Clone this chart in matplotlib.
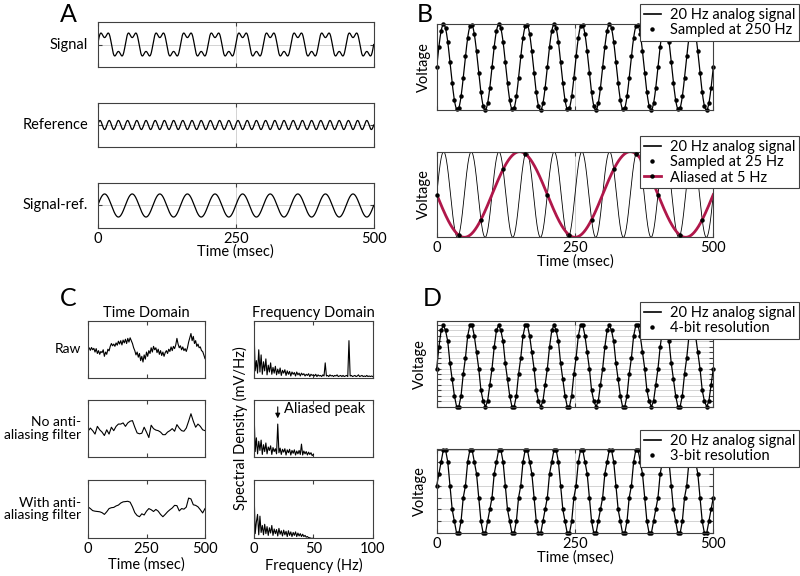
import numpy as np
import matplotlib
matplotlib.use('Agg')
import matplotlib.pyplot as plt
from matplotlib.lines import Line2D

plt.rcParams['font.family'] = ['Lato', 'DejaVu Sans']
plt.rcParams['font.size'] = 10.5

# --- signal parameters (panels A, B, D) ---
f_signal = 20        # Hz, analog signal
f_ref = 60           # Hz, reference / line noise
ref_amp = 0.4
fs_good = 250        # Hz, adequate sampling
fs_bad = 25          # Hz, undersampling
f_alias = 5          # Hz
bits = [4, 3]
time_ticks = [0, 250, 500]

# --- panel C, time domain traces ---
t_raw = np.arange(0, 501, 5)
raw_trace = [0.00, 0.05, -0.04, 0.06, -0.02, 0.03, -0.10, 0.02, -0.15, -0.05,
             -0.18, -0.08, -0.12, -0.02, -0.25, -0.10, -0.18, 0.00, -0.06, 0.10,
             0.20, 0.12, 0.18, 0.10, 0.22, 0.14, 0.28, 0.18, 0.30, 0.15,
             0.32, 0.22, 0.35, 0.20, 0.38, 0.25, 0.40, 0.30, 0.20, 0.05,
             -0.05, -0.20, -0.10, -0.28, -0.15, -0.40, -0.25, -0.45, -0.20, -0.35,
             -0.10, -0.25, -0.05, -0.15, 0.05, -0.10, 0.10, -0.02, 0.05, -0.12,
             0.00, -0.18, -0.05, -0.22, -0.10, -0.25, -0.12, -0.05, -0.15, 0.00,
             -0.08, 0.08, -0.05, 0.10, 0.02, 0.15, 0.38, 0.18, 0.05, 0.12,
             -0.02, 0.08, -0.05, 0.02, -0.08, 0.05, 0.25, 0.40, 0.55, 0.30,
             0.45, 0.20, 0.30, 0.10, 0.18, 0.05, 0.08, -0.05, -0.08, -0.20,
             -0.33]
t_down = np.arange(0, 501, 10)
noaa_trace = [-0.09, 0.02, -0.07, -0.19, 0.08, -0.04, -0.12, -0.24, -0.04, -0.19,
              0.05, -0.07, 0.08, 0.16, 0.16, 0.20, 0.08, 0.20, 0.26, 0.28,
              0.05, -0.15, -0.18, -0.16, 0.05, -0.12, -0.31, 0.12, 0.00, -0.05,
              -0.07, -0.12, -0.21, -0.21, -0.12, -0.07, 0.00, -0.09, 0.14, 0.02,
              -0.07, -0.09, 0.02, 0.26, 0.52, 0.26, 0.05, 0.16, 0.08, -0.04,
              -0.07]
aa_trace = [0.08, 0.02, -0.05, -0.07, -0.08, -0.09, -0.12, -0.18, -0.09, 0.02,
            0.05, 0.06, 0.11, 0.14, 0.21, 0.25, 0.26, 0.27, 0.24, 0.08,
            -0.12, -0.22, -0.26, -0.16, -0.20, -0.07, 0.02, -0.02, -0.08, -0.01,
            -0.07, -0.18, -0.26, -0.18, -0.09, -0.02, 0.04, 0.13, 0.12, -0.06,
            0.02, 0.00, 0.07, 0.38, 0.35, 0.15, 0.13, 0.08, -0.02, -0.13,
            0.02]

# --- panel C, spectra (1 Hz bins) ---
freq_raw = np.arange(0, 101)
spec_raw = [.85, .12, .30, .08, .49, .10, .40, .06, .28, .12,
            .33, .05, .22, .10, .26, .06, .18, .08, .20, .05,
            .15, .07, .17, .04, .13, .08, .14, .04, .12, .06,
            .11, .03, .10, .06, .09, .03, .10, .05, .08, .03,
            .08, .05, .07, .03, .06, .04, .07, .02, .06, .04,
            .05, .03, .06, .02, .05, .03, .04, .02, .05, .03,
            .26, .03, .04, .02, .05, .03, .04, .02, .04, .03,
            .05, .02, .03, .04, .02, .04, .02, .03, .04, .02,
            .65, .03, .04, .02, .03, .04, .02, .03, .05, .02,
            .03, .04, .02, .03, .02, .04, .02, .03, .02, .03,
            .02]
freq_half = np.arange(0, 51)
spec_noaa = [.84, .10, .34, .06, .28, .12, .30, .05, .22, .10,
             .25, .06, .18, .12, .20, .05, .17, .10, .15, .06,
             .58, .08, .16, .05, .14, .09, .15, .04, .13, .08,
             .14, .04, .12, .07, .13, .04, .11, .06, .12, .05,
             .23, .04, .11, .06, .10, .04, .09, .05, .08, .03,
             .05]
spec_aa = [.84, .08, .28, .41, .06, .38, .10, .22, .06, .24,
           .08, .20, .05, .18, .09, .22, .05, .16, .08, .15,
           .04, .17, .07, .13, .04, .14, .06, .12, .03, .13,
           .05, .11, .03, .10, .05, .11, .03, .09, .04, .08,
           .03, .07, .03, .05, .02, .03, .01, .01, .00, .00,
           .00]

W, H = 800, 576
fig = plt.figure(figsize=(W / 100, H / 100), dpi=100)
EDGE = '#404040'
GRID = '#cccccc'
RED = '#b0174a'
MS = 2.2


def add_ax(x0, y0, x1, y1):
    ax = fig.add_axes([x0 / W, 1 - y1 / H, (x1 - x0) / W, (y1 - y0) / H])
    for s in ax.spines.values():
        s.set_color(EDGE)
        s.set_linewidth(0.8)
    ax.tick_params(direction='in', top=True, right=True, length=3,
                   width=0.8, color=EDGE, pad=3)
    return ax


def add_legend(handles, labels, top):
    leg = fig.legend(handles, labels, loc='upper right',
                     bbox_to_anchor=(799 / W, 1 - top / H), frameon=True,
                     fancybox=False, edgecolor=EDGE, framealpha=1,
                     borderpad=0.25, labelspacing=0.1, handlelength=1.2,
                     handletextpad=0.6, borderaxespad=0, fontsize=10.5)
    leg.get_frame().set_linewidth(0.8)


t = np.linspace(0, 500, 2501)
analog = np.sin(2 * np.pi * f_signal * t / 1000)

# ---------------- A ----------------
reference = ref_amp * np.sin(2 * np.pi * f_ref * t / 1000)
rows_a = [('Signal', analog + reference, 22, 67),
          ('Reference', reference, 103, 147),
          ('Signal-ref.', analog, 183, 228)]
for i, (name, y, y0, y1) in enumerate(rows_a):
    ax = add_ax(97.7, y0, 373.7, y1)
    ax.axvline(250, color=GRID, lw=0.6, zorder=0)
    ax.axhline(0, color=GRID, lw=0.6, zorder=0)
    ax.plot(t, y, color='k', lw=0.9)
    ax.set_xlim(0, 500)
    ax.set_ylim(-1.95, 1.95)
    ax.set_xticks(time_ticks)
    ax.set_yticks([0])
    ax.set_yticklabels([])
    if i < 2:
        ax.set_xticklabels([])
    else:
        ax.set_xlabel('Time (msec)', labelpad=-1)
    fig.text(88 / W, 1 - (y0 + y1) / 2 / H, name, ha='right', va='center')
fig.text(68 / W, 1 - 14 / H, 'A', fontsize=18, ha='center', va='center')

# ---------------- B ----------------
ax = add_ax(436.7, 24.3, 713.3, 110)
t_s = np.arange(0, 501, 1000 / fs_good)
ax.axvline(250, color=GRID, lw=0.6, zorder=0)
ax.plot(t, analog, color='k', lw=0.9)
ax.plot(t_s, np.sin(2 * np.pi * f_signal * t_s / 1000), 'o', color='k',
        ms=MS, clip_on=False)
ax.set_xlim(0, 500)
ax.set_ylim(-1, 1)
ax.set_xticks(time_ticks)
ax.set_xticklabels([])
ax.set_yticks([])
ax.set_ylabel('Voltage', labelpad=4)
add_legend([Line2D([], [], color='k', lw=1.2),
            Line2D([], [], ls='none', marker='o', ms=MS, color='k')],
           ['20 Hz analog signal', 'Sampled at 250 Hz'], 4.3)

ax = add_ax(436.7, 151.7, 713.3, 237.3)
t_u = np.arange(0, 500, 1000 / fs_bad)
ax.axvline(250, color=GRID, lw=0.6, zorder=0)
ax.plot(t, analog, color='k', lw=0.6)
ax.plot(t, -np.sin(2 * np.pi * f_alias * t / 1000), color=RED, lw=2)
ax.plot(t_u, np.sin(2 * np.pi * f_signal * t_u / 1000), 'o', color='k',
        ms=MS, clip_on=False, zorder=4)
ax.set_xlim(0, 500)
ax.set_ylim(-1, 1)
ax.set_xticks(time_ticks)
ax.set_yticks([])
ax.set_ylabel('Voltage', labelpad=4)
ax.set_xlabel('Time (msec)', labelpad=-1)
add_legend([Line2D([], [], color='k', lw=1.2),
            Line2D([], [], ls='none', marker='o', ms=MS, color='k'),
            Line2D([], [], color=RED, lw=2, marker='o', ms=MS,
                   mfc='k', mec='k')],
           ['20 Hz analog signal', 'Sampled at 25 Hz', 'Aliased at 5 Hz'], 136)
fig.text(425 / W, 1 - 14 / H, 'B', fontsize=18, ha='center', va='center')

# ---------------- C ----------------
rows_c = [('Raw', raw_trace, t_raw, spec_raw, freq_raw, 320.7, 377.7),
          ('No anti-\naliasing filter', noaa_trace, t_down, spec_noaa,
           freq_half, 400, 457.3),
          ('With anti-\naliasing filter', aa_trace, t_down, spec_aa,
           freq_half, 480, 538.3)]
for i, (name, tr, tt, sp, ff, y0, y1) in enumerate(rows_c):
    ax = add_ax(88, y0, 205, y1)
    ax.plot(tt, tr, color='k', lw=0.8)
    ax.set_xlim(0, 500)
    ax.set_ylim(-1, 1)
    ax.set_xticks(time_ticks)
    ax.set_yticks([])
    if i == 0:
        ax.set_title('Time Domain', fontsize=10.5, pad=3)
    if i < 2:
        ax.set_xticklabels([])
    else:
        ax.set_xlabel('Time (msec)', labelpad=1)
    fig.text(81 / W, 1 - (y0 + y1) / 2 / H, name, ha='right', va='center',
             linespacing=1.05, fontsize=10)

    ax = add_ax(254, y0, 372.7, y1)
    ax.plot(ff, sp, color='k', lw=0.8)
    ax.set_xlim(0, 100)
    ax.set_ylim(0, 1)
    ax.set_xticks([0, 50, 100])
    ax.set_yticks([])
    if i == 0:
        ax.set_title('Frequency Domain', fontsize=10.5, pad=3)
    if i == 1:
        ax.annotate('', xy=(20, 0.68), xytext=(20, 0.88),
                    arrowprops=dict(arrowstyle='-|>', color='k', lw=0.8,
                                    mutation_scale=7, shrinkA=0, shrinkB=0))
        ax.text(25, 0.84, 'Aliased peak', va='center', ha='left')
    if i < 2:
        ax.set_xticklabels([])
    else:
        ax.set_xlabel('Frequency (Hz)', labelpad=1)
fig.text(240 / W, 1 - 428 / H, 'Spectral Density (mV/Hz)', rotation=90,
         ha='center', va='center')
fig.text(68 / W, 1 - 298 / H, 'C', fontsize=18, ha='center', va='center')

# ---------------- D ----------------
boxes_d = [(320.7, 406.7, 0.8), (449.3, 533.3, 0.05)]
for i, (nb, (y0, y1, pad)) in enumerate(zip(bits, boxes_d)):
    ax = add_ax(436.7, y0, 713.3, y1)
    levels = np.linspace(-1, 1, 2 ** nb)
    step = levels[1] - levels[0]
    x = np.sin(2 * np.pi * f_signal * t_s / 1000)
    q = levels[np.argmin(np.abs(x[:, None] - levels[None, :]), axis=1)]
    for lv in levels:
        ax.axhline(lv, color=GRID, lw=0.6, zorder=0)
    ax.axvline(250, color=GRID, lw=0.6, zorder=0)
    ax.plot(t_s, q, '-o', color='k', lw=0.9, ms=MS, clip_on=False)
    ax.set_xlim(0, 500)
    ax.set_ylim(-1, 1 + pad * step)
    ax.set_xticks(time_ticks)
    ax.set_yticks(levels)
    ax.set_yticklabels([])
    ax.set_ylabel('Voltage', labelpad=4)
    if i == 0:
        ax.set_xticklabels([])
    else:
        ax.set_xlabel('Time (msec)', labelpad=-1)
    add_legend([Line2D([], [], color='k', lw=1.2),
                Line2D([], [], ls='none', marker='o', ms=MS, color='k')],
               ['20 Hz analog signal', '%d-bit resolution' % nb],
               [302, 430][i])
fig.text(432 / W, 1 - 298 / H, 'D', fontsize=18, ha='center', va='center')

fig.savefig('out.png', dpi=100)
